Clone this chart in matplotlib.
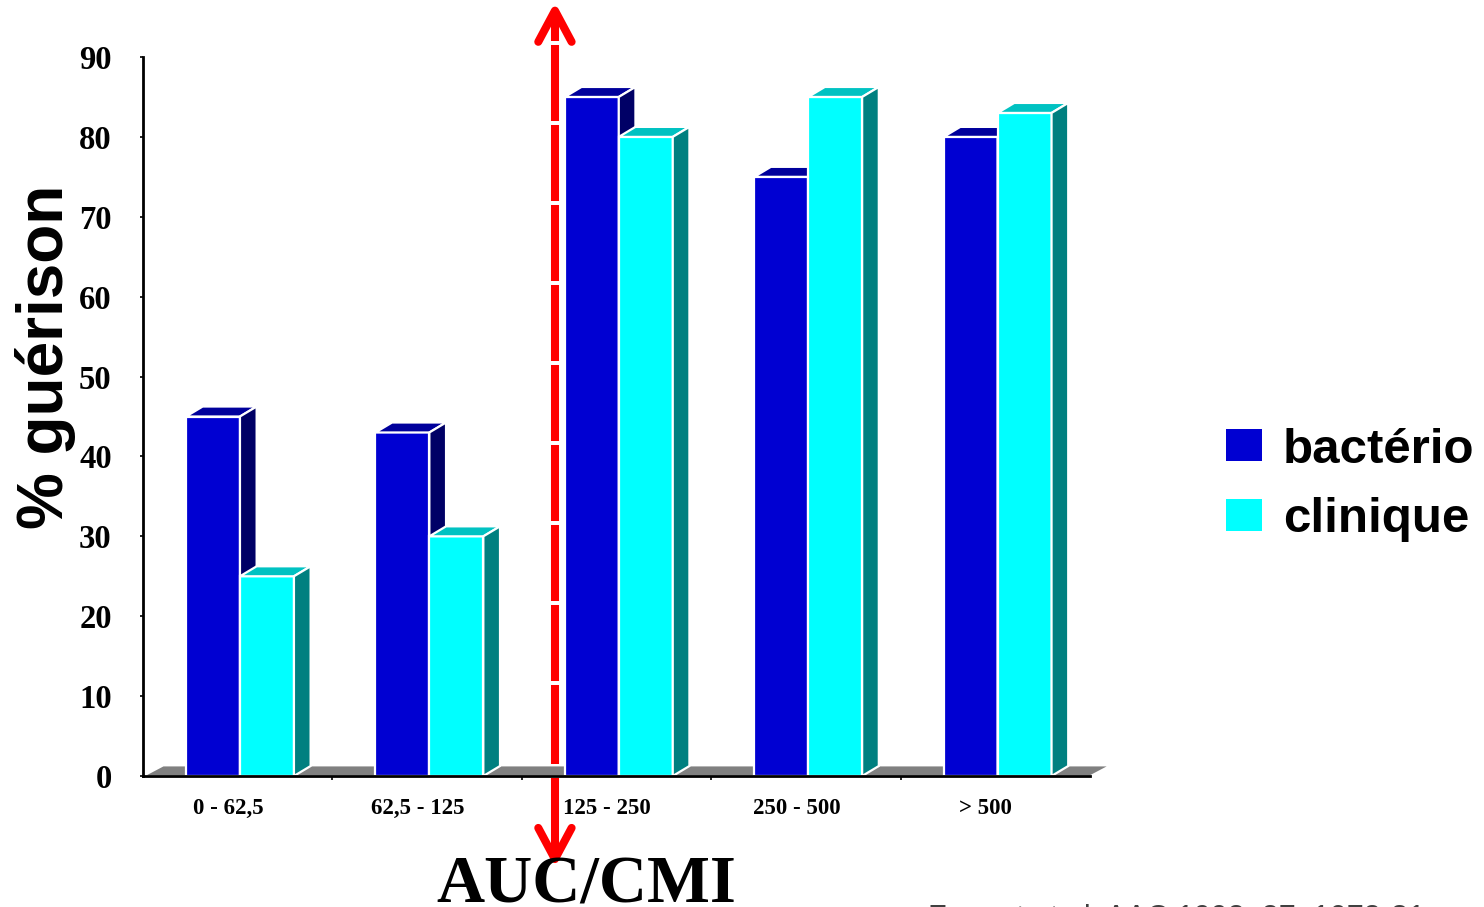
import matplotlib
matplotlib.use("Agg")
import matplotlib.pyplot as plt
from matplotlib.patches import Polygon, Patch
import numpy as np

# Cure rate (%) by AUC/MIC class
categories = ["0 - 62,5", "62,5 - 125", "125 - 250", "250 - 500", "> 500"]
bacterio = [45, 43, 85, 75, 80]
clinique = [25, 30, 80, 85, 83]
series_names = ["bactério", "clinique"]
y_ticks = [0, 10, 20, 30, 40, 50, 60, 70, 80, 90]

# Breakpoint marker between the 62,5-125 and 125-250 classes
threshold_x = 1.675

# face colours: front, top, side
blue_faces = ("#0000D2", "#00009C", "#000066")
cyan_faces = ("#00FFFF", "#00C2C2", "#008080")

W, H = 1484, 907
fig = plt.figure(figsize=(W / 100, H / 100), dpi=100)
ax = fig.add_axes([143 / W, 131 / H, 947 / W, 719 / H])
ax.set_xlim(-0.5, 4.5)
ax.set_ylim(0, 90)

serif = "Liberation Serif"
sans = "Liberation Sans"

bar_w = 0.285
dx, dy = 0.088, 1.25  # 3D depth offset in data units

x = np.arange(len(categories))


def draw_3d_bars(lefts, values, faces, z):
    front, top, side = faces
    ax.bar(lefts, values, width=bar_w, align="edge", color=front,
           edgecolor="white", linewidth=1.6, zorder=z)
    for l, v in zip(lefts, values):
        r = l + bar_w
        ax.add_patch(Polygon([(l, v), (r, v), (r + dx, v + dy), (l + dx, v + dy)],
                             closed=True, facecolor=top, edgecolor="white",
                             linewidth=1.6, zorder=z, clip_on=False))
        ax.add_patch(Polygon([(r, 0), (r + dx, dy), (r + dx, v + dy), (r, v)],
                             closed=True, facecolor=side, edgecolor="white",
                             linewidth=1.6, zorder=z, clip_on=False))


# floor
ax.add_patch(Polygon([(-0.5 + 0.02, 0.1), (4.5, 0.1), (4.5 + dx, 1.2), (-0.5 + dx + 0.02, 1.2)],
                     closed=True, facecolor="#808080", edgecolor="none",
                     zorder=3, clip_on=False))

# red threshold arrow (dashed shaft, open heads at both ends)
red = "#FF0000"
lw_arrow = 5.8
top_tip, bottom_tip = 95.8, -10.4
gaps = np.arange(91.7, 10, -10)
seg_start = top_tip - 0.5
for g in gaps:
    ax.plot([threshold_x, threshold_x], [seg_start, g + 0.25], color=red,
            lw=lw_arrow, solid_capstyle="butt", zorder=2, clip_on=False)
    seg_start = g - 0.25
ax.plot([threshold_x, threshold_x], [seg_start, 1.5], color=red,
        lw=lw_arrow, solid_capstyle="butt", zorder=2, clip_on=False)
ax.plot([threshold_x, threshold_x], [-0.3, bottom_tip + 0.5], color=red,
        lw=lw_arrow, solid_capstyle="butt", zorder=2, clip_on=False)
ax.plot([threshold_x - 0.088, threshold_x, threshold_x + 0.088],
        [top_tip - 3.9, top_tip, top_tip - 3.9], color=red, lw=lw_arrow,
        solid_capstyle="round", solid_joinstyle="round", zorder=2, clip_on=False)
ax.plot([threshold_x - 0.088, threshold_x, threshold_x + 0.088],
        [bottom_tip + 3.9, bottom_tip, bottom_tip + 3.9], color=red, lw=lw_arrow,
        solid_capstyle="round", solid_joinstyle="round", zorder=2, clip_on=False)

# bars: bactério first, clinique in front of its side face
draw_3d_bars(x - 0.273, bacterio, blue_faces, 4)
draw_3d_bars(x + 0.012, clinique, cyan_faces, 5)

# axes styling
for s in ("top", "right"):
    ax.spines[s].set_visible(False)
for s in ("left", "bottom"):
    ax.spines[s].set_linewidth(2.0)
    ax.spines[s].set_color("black")
    ax.spines[s].set_zorder(6)
ax.spines["bottom"].set_bounds(-0.5, 4.5)

ax.set_yticks(y_ticks)
ax.set_yticklabels([str(t) for t in y_ticks], fontfamily=serif,
                   fontweight="bold", fontsize=23.5)
ax.tick_params(axis="y", length=2.5, width=1.2, pad=20)

ax.set_xticks(x - 0.05)
ax.set_xticklabels(categories, fontfamily=serif, fontweight="bold", fontsize=16.5)
ax.set_xticks(np.arange(0.5, 4.5, 1.0), minor=True)
ax.tick_params(axis="x", which="major", length=0, pad=16)
ax.tick_params(axis="x", which="minor", length=3, width=1.2)

fig.text(46 / W, 1 - 357 / H, "% guérison", rotation=90, ha="center",
         va="center", fontfamily=sans, fontweight="bold", fontsize=46)

fig.text(586 / W, (H - 902) / H, "AUC/CMI", ha="center", va="baseline",
         fontfamily=serif, fontweight="bold", fontsize=48)

fig.text(928 / W, (H - 927) / H, "Forrest et al. AAC 1993; 37: 1073-81",
         ha="left", va="baseline", fontfamily=sans, fontsize=22, color="#404040")

handles = [Patch(facecolor=blue_faces[0], edgecolor="none"),
           Patch(facecolor=cyan_faces[0], edgecolor="none")]
fig.legend(handles, series_names, loc="center left",
           bbox_to_anchor=(1226 / W, 1 - 485 / H), frameon=False,
           prop={"family": sans, "weight": "bold", "size": 35.5},
           handlelength=0.73, handleheight=0.61, handletextpad=0.42,
           labelspacing=0.5, borderpad=0, borderaxespad=0)

fig.savefig("out.png", dpi=100)
